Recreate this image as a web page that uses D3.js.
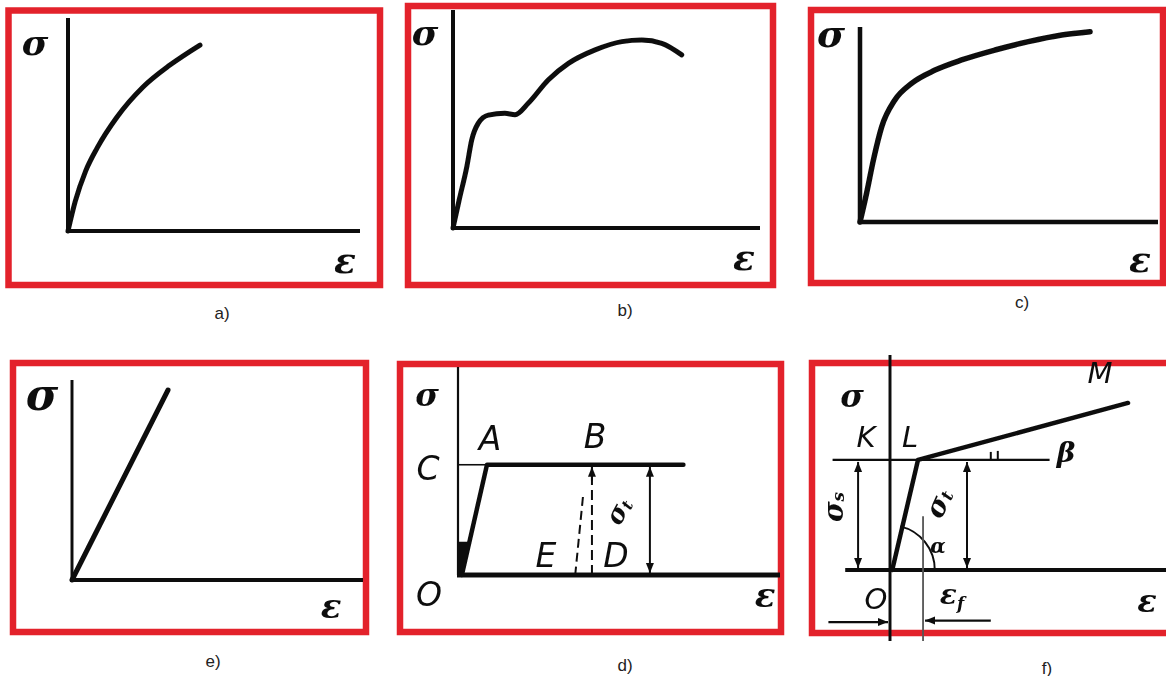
<!DOCTYPE html>
<html>
<head>
<meta charset="utf-8">
<script src="https://cdn.jsdelivr.net/npm/d3@7"></script>
<style>
  body { margin: 0; background: #fff; }
  svg { display: block; }
</style>
</head>
<body>
<svg id="chart" width="1166" height="676"></svg>
<script>
// Six schematic stress–strain (σ–ε) diagrams.
// Values are in relative units: ε and σ run 0…100 along each panel's axes.

// a) hardening material
const epsA = [0, 2.5, 6.0, 10.0, 16.8, 25.7, 34.9, 45.2];
const sigA = [0, 14.0, 28.0, 39.0, 53.5, 67.6, 77.9, 87.3];

// b) material with a yield plateau and necking
const epsB = [0, 2.0, 4.5, 6.1, 8.2, 11.5, 16.9, 20.2, 24.5, 31.0, 37.6, 46.3, 55.0, 61.5, 68.0, 74.5];
const sigB = [0, 12.8, 28.1, 40.4, 48.0, 51.8, 52.6, 52.0, 57.2, 67.9, 75.5, 81.7, 85.5, 86.2, 84.7, 79.4];

// c) strongly non-linear material
const epsC = [0, 2.2, 4.5, 7.3, 11.7, 17.3, 25.2, 34.1, 45.3, 56.5, 67.7, 77.2];
const sigC = [0, 14.7, 31.8, 48.9, 62.6, 71.1, 77.9, 83.1, 88.2, 92.5, 95.9, 97.6];

// e) linear elastic (brittle) material
const epsE = [0, 33];
const sigE = [0, 95];

// d) ideal elastic–plastic material O–A–B
const epsD = [1.2, 9, 70];
const sigD = [0, 53, 53];
const epsDashE = 37.6;   // unloading line through E
const sigDashE = 37.5;
const epsDashB = 41.6;   // line from B down to D
const epsArrowD = 59.6;  // σt dimension arrow

// f) elastic – linear hardening material O–L–M
const epsF = [0.8, 10, 85];
const sigF = [0, 51.2, 77.7];
const sigYieldF = 51.2;
const epsFracF = 11.8;    // εf marker
const epsArrowSs = -11.4; // σs dimension arrow
const epsArrowSt = 27.5;  // σt dimension arrow

const captions = ["a)", "b)", "c)", "e)", "d)", "f)"];

const svg = d3.select("#chart");
const RED = "#e3222b";
const INK = "#111";

const defs = svg.append("defs");
defs.append("filter").attr("id", "soft")
  .attr("x", "-5%").attr("y", "-5%").attr("width", "110%").attr("height", "110%")
  .append("feGaussianBlur").attr("stdDeviation", 0.55);
defs.append("marker")
  .attr("id", "head").attr("viewBox", "0 0 10 10")
  .attr("refX", 10).attr("refY", 5)
  .attr("markerWidth", 10).attr("markerHeight", 12)
  .attr("markerUnits", "userSpaceOnUse")
  .attr("orient", "auto-start-reverse")
  .append("path").attr("d", "M0,1 L10,5 L0,9 Z").attr("fill", INK);

// Frames (red borders) and captions
const frames = [
  [8.5, 10.5, 371.5, 274.5],
  [408, 6, 365, 279],
  [811, 10, 352, 273],
  [13, 363, 353, 269],
  [400, 364, 381, 268],
  [812, 363, 362, 270]
];
const captionPos = [[222, 313], [625, 310], [1022, 302], [213, 661], [625, 665], [1047, 668]];

svg.append("g").selectAll("rect").data(frames).join("rect")
  .attr("x", d => d[0]).attr("y", d => d[1])
  .attr("width", d => d[2]).attr("height", d => d[3])
  .attr("fill", "none").attr("stroke", RED).attr("stroke-width", 6.5);

svg.append("g").selectAll("text").data(captions).join("text")
  .attr("x", (d, i) => captionPos[i][0]).attr("y", (d, i) => captionPos[i][1])
  .attr("text-anchor", "middle").attr("dominant-baseline", "central")
  .attr("font-family", "Liberation Sans, Arial, sans-serif")
  .attr("font-size", 17).attr("fill", "#222")
  .text(d => d);

const ink = svg.append("g").attr("filter", "url(#soft)");

function panelScales(ox, oy, xEnd, yTop) {
  return {
    x: d3.scaleLinear().domain([0, 100]).range([ox, xEnd]),
    y: d3.scaleLinear().domain([0, 100]).range([oy, yTop])
  };
}

function seg(g, x1, y1, x2, y2, w, extra) {
  const l = g.append("line")
    .attr("x1", x1).attr("y1", y1).attr("x2", x2).attr("y2", y2)
    .attr("stroke", INK).attr("stroke-width", w).attr("stroke-linecap", "butt");
  if (extra) extra(l);
  return l;
}

function curve(g, s, xs, ys, w, kind) {
  const pts = xs.map((e, i) => [e, ys[i]]);
  g.append("path")
    .attr("d", d3.line().x(d => s.x(d[0])).y(d => s.y(d[1])).curve(kind || d3.curveMonotoneX)(pts))
    .attr("fill", "none").attr("stroke", INK).attr("stroke-width", w)
    .attr("stroke-linecap", "round").attr("stroke-linejoin", "round");
}

const GREEK = "DejaVu Serif, serif";
const LETTER = "DejaVu Sans, sans-serif";

function label(g, txt, x, y, size, opts) {
  opts = opts || {};
  const t = g.append("text")
    .attr("text-anchor", "middle")
    .attr("font-family", opts.family || GREEK)
    .attr("font-style", "italic")
    .attr("font-weight", opts.weight || "bold")
    .attr("font-size", size).attr("fill", INK);
  if (opts.rotate !== undefined) {
    t.attr("transform", `translate(${x},${y}) rotate(${opts.rotate})`)
      .attr("dominant-baseline", "central");
  } else {
    t.attr("x", x).attr("y", y);
  }
  if (opts.sub) {
    t.append("tspan").text(txt);
    t.append("tspan").attr("font-size", size * 0.6).attr("dy", size * 0.18).text(opts.sub);
  } else {
    t.text(txt);
  }
  return t;
}

const letterStyle = { family: LETTER, weight: "normal" };

// ---- a) ----
{
  const g = ink.append("g");
  const s = panelScales(68, 231, 360, 18);
  seg(g, s.x(0), s.y(100), s.x(0), s.y(0) + 2, 4);
  seg(g, s.x(0) - 2, s.y(0), s.x(100), s.y(0), 4);
  curve(g, s, epsA, sigA, 5);
  label(g, "σ", 35, 55, 36);
  label(g, "ε", 345, 273, 36);
}

// ---- b) ----
{
  const g = ink.append("g");
  const s = panelScales(453, 228, 760, 10);
  seg(g, s.x(0), s.y(100), s.x(0), s.y(0) + 2, 4);
  seg(g, s.x(0) - 2, s.y(0), s.x(100), s.y(0), 4);
  curve(g, s, epsB, sigB, 5);
  label(g, "σ", 425, 45, 36);
  label(g, "ε", 744, 270, 36);
}

// ---- c) ----
{
  const g = ink.append("g");
  const s = panelScales(860, 222, 1158, 27);
  seg(g, s.x(0), s.y(100), s.x(0), s.y(0) + 2, 4.5);
  seg(g, s.x(0) - 2, s.y(0), s.x(100), s.y(0), 4.5);
  curve(g, s, epsC, sigC, 5.5);
  label(g, "σ", 831, 47, 38);
  label(g, "ε", 1140, 272, 36);
}

// ---- e) ----
{
  const g = ink.append("g");
  const s = panelScales(72, 580, 363, 380);
  seg(g, s.x(0), s.y(100), s.x(0), s.y(0) + 2, 3);
  seg(g, s.x(0) - 2, s.y(0), s.x(100), s.y(0), 4);
  curve(g, s, epsE, sigE, 5, d3.curveLinear);
  label(g, "σ", 42, 410, 44);
  label(g, "ε", 331, 618, 34);
}

// ---- d) ----
{
  const g = ink.append("g");
  const s = panelScales(458, 575, 780, 367);
  // axes
  seg(g, s.x(0), s.y(100), s.x(0), s.y(0), 2.2);
  seg(g, s.x(0) - 1, s.y(0), s.x(100), s.y(0), 5);
  // level C
  seg(g, s.x(0), s.y(sigD[1]), s.x(epsD[1]), s.y(sigD[1]), 1.6);
  // O–A–B
  curve(g, s, epsD, sigD, 4.5, d3.curveLinear);
  // heavy foot of the elastic line
  g.append("path")
    .attr("d", d3.line().x(d => s.x(d[0])).y(d => s.y(d[1]))([[0, 0], [0, 16], [3.8, 16], [1.6, 0]]))
    .attr("fill", INK);
  // unloading line through E (dashed)
  seg(g, s.x(epsDashE + 1.2), s.y(sigDashE), s.x(epsDashE - 1.2), s.y(0), 2,
      l => l.attr("stroke-dasharray", "9,5"));
  // line from B to D with arrow at B
  seg(g, s.x(epsDashB), s.y(0), s.x(epsDashB), s.y(sigD[1]) + 2, 2,
      l => l.attr("stroke-dasharray", "10,5"));
  seg(g, s.x(epsDashB), s.y(sigD[1]) + 16, s.x(epsDashB), s.y(sigD[1]) + 2, 2,
      l => l.attr("marker-end", "url(#head)"));
  // σt dimension
  seg(g, s.x(epsArrowD), s.y(0) - 2, s.x(epsArrowD), s.y(sigD[1]) + 2, 2,
      l => l.attr("marker-end", "url(#head)").attr("marker-start", "url(#head)"));
  label(g, "σ", 618, 511, 26, { rotate: -62, sub: "t" });

  label(g, "σ", 427, 406, 32);
  label(g, "ε", 765, 607, 34);
  label(g, "A", 490, 450, 33, letterStyle);
  label(g, "B", 595, 448, 33, letterStyle);
  label(g, "C", 428, 480, 33, letterStyle);
  label(g, "E", 546, 567, 33, letterStyle);
  label(g, "D", 616, 567, 33, letterStyle);
  label(g, "O", 429, 606, 33, letterStyle);
}

// ---- f) ----
{
  const g = ink.append("g");
  const s = panelScales(890, 570, 1170, 355);
  // axes
  seg(g, s.x(0), s.y(100), s.x(0), s.y(-33), 3);
  seg(g, s.x(-16), s.y(0), s.x(100), s.y(0), 4);
  // yield level K–L and its continuation to β
  seg(g, s.x(-20.5), s.y(sigYieldF), s.x(57), s.y(sigYieldF), 2.2);
  // O–L–M
  curve(g, s, epsF, sigF, 4.5, d3.curveLinear);
  // β angle ticks
  seg(g, s.x(36), s.y(sigYieldF) + 1, s.x(36), s.y(sigYieldF) - 8, 2);
  seg(g, s.x(38.5), s.y(sigYieldF) + 1, s.x(38.5), s.y(sigYieldF) - 9, 2);
  // α arc at the origin
  const r = s.x(16) - s.x(0);
  const slope = Math.atan2(s.y(0) - s.y(sigF[1]), s.x(epsF[1]) - s.x(epsF[0]));
  g.append("path")
    .attr("d", d3.arc()({ innerRadius: r, outerRadius: r, startAngle: Math.PI / 2 - slope, endAngle: Math.PI / 2 }))
    .attr("transform", `translate(${s.x(0)},${s.y(0)})`)
    .attr("fill", "none").attr("stroke", INK).attr("stroke-width", 2);
  // εf marker line
  seg(g, s.x(epsFracF), s.y(25), s.x(epsFracF), s.y(-33), 1.8, l => l.attr("stroke", "#555"));
  // σs and σt dimension arrows
  seg(g, s.x(epsArrowSs), s.y(sigYieldF) + 2, s.x(epsArrowSs), s.y(0) - 2, 2,
      l => l.attr("marker-end", "url(#head)").attr("marker-start", "url(#head)"));
  seg(g, s.x(epsArrowSt), s.y(sigYieldF) + 2, s.x(epsArrowSt), s.y(0) - 2, 2,
      l => l.attr("marker-end", "url(#head)").attr("marker-start", "url(#head)"));
  // εf bounding arrows
  seg(g, s.x(-22), s.y(-24.2), s.x(0) - 2, s.y(-24.2), 2.2, l => l.attr("marker-end", "url(#head)"));
  seg(g, s.x(36), s.y(-23.5), s.x(epsFracF) + 2, s.y(-23.5), 2.2, l => l.attr("marker-end", "url(#head)"));

  label(g, "σ", 852, 407, 32);
  label(g, "ε", 1147, 612, 32);
  label(g, "K", 866, 447, 29, letterStyle);
  label(g, "L", 910, 447, 29, letterStyle);
  label(g, "M", 1100, 383, 29, letterStyle);
  label(g, "O", 876, 609, 29, letterStyle);
  label(g, "β", 1066, 462, 28);
  label(g, "α", 938, 553, 20);
  label(g, "ε", 952, 604, 28, { sub: "f" });
  label(g, "σ", 833, 507, 28, { rotate: -90, sub: "s" });
  label(g, "σ", 938, 503, 28, { rotate: -66, sub: "t" });
}
</script>
</body>
</html>
